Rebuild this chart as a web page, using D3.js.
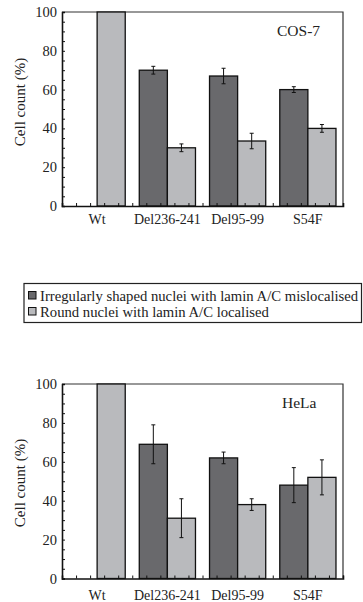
<!DOCTYPE html>
<html>
<head>
<meta charset="utf-8">
<script src="https://cdn.jsdelivr.net/npm/d3@7"></script>
<style>
  body { margin: 0; background: #fff; }
  svg { display: block; font-family: "Liberation Serif", "Times New Roman", serif; }
</style>
</head>
<body>
<svg id="chart" width="363" height="602"></svg>
<script>
// categories and series
const categories = ['Wt', 'Del236-241', 'Del95-99', 'S54F'];
const seriesNames = [
  'Irregularly shaped nuclei with lamin A/C mislocalised',
  'Round nuclei with lamin A/C localised'
];
const yTicks = [0, 20, 40, 60, 80, 100];

// COS-7
const cosIrregular = [0, 70, 67, 60];
const cosIrregularErr = [0, 2, 4, 1.5];
const cosRound = [100, 30, 33.5, 40];
const cosRoundErr = [0, 2, 4, 2];

// HeLa
const helaIrregular = [0, 69, 62, 48];
const helaIrregularErr = [0, 10, 3, 9];
const helaRound = [100, 31, 38, 52];
const helaRoundErr = [0, 10, 3, 9];

const colors = ['#69696c', '#b9babd'];

const svg = d3.select('#chart');

function drawPanel(opts) {
  const left = 62, right = 343;
  const top = opts.top, bottom = opts.bottom;

  const x = d3.scaleBand().domain(categories).range([left, right]);
  const xSub = d3.scaleBand().domain([0, 1]).range([0, x.bandwidth()]).paddingOuter(0.25);
  const xMinor = d3.scaleLinear().domain([0, categories.length]).range([left, right]);
  const y = d3.scaleLinear().domain([0, 100]).range([bottom, top]);

  const g = svg.append('g');

  // frame top / right
  g.append('path')
    .attr('d', `M${left},${top}H${right}V${bottom}`)
    .attr('fill', 'none')
    .attr('stroke', '#333')
    .attr('stroke-width', 1.2);

  const rows = categories.map((c, i) => ({
    cat: c,
    vals: [
      {s: 0, v: opts.irregular[i], e: opts.irregularErr[i]},
      {s: 1, v: opts.round[i], e: opts.roundErr[i]}
    ]
  }));

  const groups = g.selectAll('g.grp')
    .data(rows)
    .join('g')
    .attr('class', 'grp')
    .attr('transform', d => `translate(${x(d.cat)},0)`);

  const bars = groups.selectAll('g.bar')
    .data(d => d.vals.filter(v => v.v > 0))
    .join('g')
    .attr('class', 'bar');

  bars.append('rect')
    .attr('x', d => xSub(d.s))
    .attr('y', d => y(d.v))
    .attr('width', xSub.bandwidth())
    .attr('height', d => y(0) - y(d.v))
    .attr('fill', d => colors[d.s])
    .attr('stroke', '#111')
    .attr('stroke-width', 1.3);

  const errs = bars.filter(d => d.e > 0).append('g')
    .attr('stroke', '#111')
    .attr('stroke-width', 1);
  errs.append('line')
    .attr('x1', d => xSub(d.s) + xSub.bandwidth() / 2)
    .attr('x2', d => xSub(d.s) + xSub.bandwidth() / 2)
    .attr('y1', d => y(d.v + d.e))
    .attr('y2', d => y(d.v - d.e));
  [1, -1].forEach(sign => {
    errs.append('line')
      .attr('x1', d => xSub(d.s) + xSub.bandwidth() / 2 - 2)
      .attr('x2', d => xSub(d.s) + xSub.bandwidth() / 2 + 2)
      .attr('y1', d => y(d.v + sign * d.e))
      .attr('y2', d => y(d.v + sign * d.e));
  });

  // y axis, ticks inward
  const yAxis = g.append('g')
    .attr('transform', `translate(${left},0)`)
    .call(d3.axisRight(y).tickValues(d3.range(0, 101, 5)).tickSize(3).tickFormat(''));
  yAxis.select('.domain').attr('stroke', '#111').attr('stroke-width', 1.6);
  yAxis.selectAll('.tick line').attr('stroke', '#111');

  g.append('g')
    .selectAll('text')
    .data(yTicks)
    .join('text')
    .attr('x', left - 5)
    .attr('y', d => y(d))
    .attr('dy', '0.35em')
    .attr('text-anchor', 'end')
    .attr('font-size', 14.5)
    .attr('fill', '#222')
    .text(d => d);

  // x axis, minor ticks inward
  const xAxis = g.append('g')
    .attr('transform', `translate(0,${bottom})`)
    .call(d3.axisTop(xMinor).tickValues(d3.range(0, categories.length + 0.01, 0.2)).tickSize(3).tickFormat(''));
  xAxis.select('.domain').attr('stroke', '#111').attr('stroke-width', 1.6);
  xAxis.selectAll('.tick line').attr('stroke', '#111');

  g.append('g')
    .selectAll('text')
    .data(categories)
    .join('text')
    .attr('x', d => x(d) + x.bandwidth() / 2)
    .attr('y', bottom + opts.labelGap)
    .attr('text-anchor', 'middle')
    .attr('font-size', 14)
    .attr('fill', '#222')
    .text(d => d);

  g.append('text')
    .attr('transform', `translate(25,${opts.labelY}) rotate(-90)`)
    .attr('text-anchor', 'middle')
    .attr('font-size', 15)
    .attr('fill', '#222')
    .text('Cell count (%)');

  g.append('text')
    .attr('x', opts.titleX)
    .attr('y', top + 24)
    .attr('font-size', 15.5)
    .attr('fill', '#222')
    .text(opts.title);
}

drawPanel({
  top: 12, bottom: 206, labelY: 102, labelGap: 17.5, title: 'COS-7', titleX: 277,
  irregular: cosIrregular, irregularErr: cosIrregularErr,
  round: cosRound, roundErr: cosRoundErr
});

drawPanel({
  top: 384, bottom: 578.5, labelY: 483, labelGap: 21, title: 'HeLa', titleX: 282,
  irregular: helaIrregular, irregularErr: helaIrregularErr,
  round: helaRound, roundErr: helaRoundErr
});

// legend
const legend = svg.append('g');
legend.append('rect')
  .attr('x', 24).attr('y', 283.5)
  .attr('width', 337.5).attr('height', 39)
  .attr('fill', 'none')
  .attr('stroke', '#222')
  .attr('stroke-width', 1.2);

const items = legend.selectAll('g.item')
  .data(seriesNames)
  .join('g')
  .attr('class', 'item')
  .attr('transform', (d, i) => `translate(0,${291 + i * 16})`);
items.append('rect')
  .attr('x', 28.5).attr('y', 0.5)
  .attr('width', 7.5).attr('height', 7.5)
  .attr('fill', (d, i) => colors[i])
  .attr('stroke', '#111')
  .attr('stroke-width', 1);
items.append('text')
  .attr('x', 40)
  .attr('y', 4.5)
  .attr('dy', '0.35em')
  .attr('font-size', 14.7)
  .attr('fill', '#222')
  .text(d => d);
</script>
</body>
</html>
